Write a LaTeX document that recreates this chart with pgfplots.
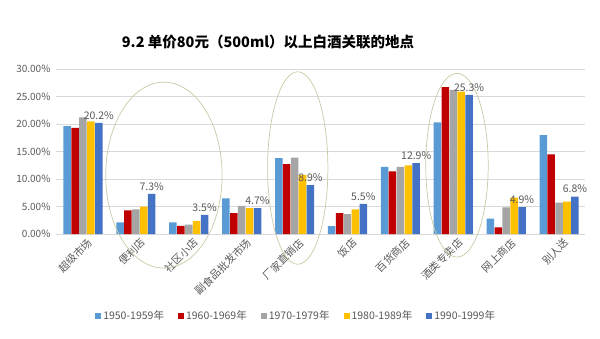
\documentclass[border=0pt]{standalone}
\usepackage{fontspec}
\setmainfont{Noto Sans CJK SC}
\usepackage{pgfplots}
\pgfplotsset{compat=1.18}
\definecolor{cA}{HTML}{5B9BD5}
\definecolor{cB}{HTML}{C00000}
\definecolor{cC}{HTML}{A5A5A5}
\definecolor{cD}{HTML}{FFC000}
\definecolor{cE}{HTML}{4472C4}
\definecolor{txt}{HTML}{595959}
\definecolor{grd}{HTML}{D9D9D9}
\definecolor{ell}{HTML}{C9C9A6}
\begin{document}
\begin{tikzpicture}
\path[use as bounding box] (0,0) rectangle (600pt,338pt);
\node[font=\fontsize{14.5}{16}\selectfont\bfseries] at (268pt,296pt) {9.2 单价80元（500ml）以上白酒关联的地点};
\begin{axis}[
  at={(56pt,104pt)}, anchor=south west,
  scale only axis, width=529pt, height=165pt,
  xmin=-0.51, xmax=9.49, ymin=0, ymax=30,
  ybar=0.4pt, bar width=0.142,
  clip=false,
  axis x line*=bottom, axis y line*=left,
  x axis line style={grd, line width=0.8pt},
  y axis line style={draw=none},
  ymajorgrids, grid style={grd, line width=0.6pt},
  ytick={0,5,...,30},
  yticklabel={\pgfmathprintnumber[fixed,fixed zerofill,precision=2]{\tick}\%},
  /pgf/number format/assume math mode=true,
  y tick label style={font=\fontsize{10}{12}\selectfont, text=txt, xshift=-2pt},
  xtick={0,...,9}, major tick length=0pt,
  xticklabels={超级市场,便利店,社区小店,副食品批发市场,厂家直销店,饭店,百货商店,酒类专卖店,网上商店,别人送},
  x tick label style={font=\fontsize{10.5}{12}\selectfont, text=txt, rotate=45, anchor=east, xshift=4pt, yshift=-10pt},
  tick style={draw=none},
  legend columns=5,
  legend style={at={(0.454,-0.497)}, anchor=center, draw=none, font=\fontsize{10.5}{12}\selectfont, text=txt,
    /tikz/every even column/.append style={column sep=12pt}},
  legend image code/.code={\fill[#1] (0pt,-3pt) rectangle (6pt,3pt);},
  every axis plot/.append style={draw=none},
]
\addplot[fill=cA] coordinates {(0,19.6) (1,2.1) (2,2.1) (3,6.5) (4,13.8) (5,1.45) (6,12.2) (7,20.3) (8,2.8) (9,18.0)};
\addplot[fill=cB] coordinates {(0,19.3) (1,4.3) (2,1.5) (3,3.8) (4,12.7) (5,3.8) (6,11.4) (7,26.7) (8,1.2) (9,14.5)};
\addplot[fill=cC] coordinates {(0,21.2) (1,4.5) (2,1.7) (3,5.1) (4,13.9) (5,3.6) (6,12.2) (7,26.2) (8,4.85) (9,5.7)};
\addplot[fill=cD] coordinates {(0,20.5) (1,5.0) (2,2.4) (3,4.7) (4,10.7) (5,4.5) (6,12.5) (7,25.9) (8,6.6) (9,5.9)};
\addplot[fill=cE, nodes near coords={\pgfmathprintnumber[fixed,fixed zerofill,precision=1]{\pgfplotspointmeta}\%},
  nodes near coords style={font=\fontsize{10.5}{12}\selectfont, text=txt, /pgf/number format/assume math mode=true}]
  coordinates {(0,20.2) (1,7.3) (2,3.5) (3,4.7) (4,8.9) (5,5.5) (6,12.9) (7,25.3) (8,4.9) (9,6.8)};
\legend{1950-1959年,1960-1969年,1970-1979年,1980-1989年,1990-1999年}
\draw[ell, line width=0.7pt] (axis cs:1.53,10.7) ellipse [x radius=1.10, y radius=16.9];
\draw[ell, line width=0.7pt] (axis cs:4.06,12.0) ellipse [x radius=0.57, y radius=17.5];
\draw[ell, line width=0.7pt] (axis cs:7.07,12.5) ellipse [x radius=0.59, y radius=16.7];
\end{axis}
\end{tikzpicture}
\end{document}
